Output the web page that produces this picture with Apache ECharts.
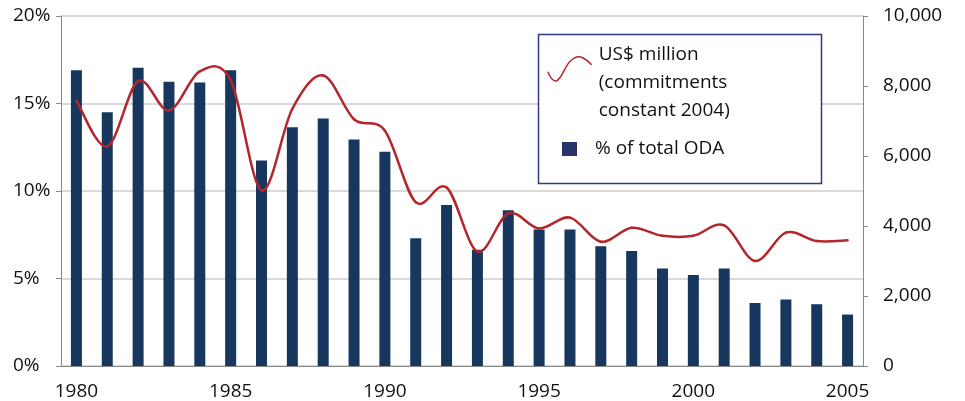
<!DOCTYPE html>
<html>
<head>
<meta charset="utf-8">
<script src="https://cdn.jsdelivr.net/npm/echarts@6/dist/echarts.min.js"></script>
<style>
html,body{margin:0;padding:0;background:#fff;}
#chart{width:965px;height:401px;}
</style>
</head>
<body>
<div id="chart"></div>
<script>
const years = ['1980','1981','1982','1983','1984','1985','1986','1987','1988','1989','1990','1991','1992','1993','1994','1995','1996','1997','1998','1999','2000','2001','2002','2003','2004','2005'];
const pctOfTotalODA = [16.9, 14.5, 17.05, 16.25, 16.2, 16.9, 11.75, 13.65, 14.15, 12.95, 12.25, 7.3, 9.2, 6.65, 8.9, 7.8, 7.8, 6.85, 6.57, 5.57, 5.2, 5.57, 3.6, 3.8, 3.53, 2.94];
const usdMillion = [7580, 6270, 8140, 7300, 8420, 8170, 5020, 7350, 8300, 7050, 6720, 4680, 5100, 3270, 4360, 3930, 4240, 3550, 3950, 3720, 3720, 4020, 3000, 3810, 3570, 3590];
const lineName = 'US$ million\n(commitments\nconstant 2004)';
const barName = '% of total ODA';

const FONT = 'Open Sans';
const LINE_COLOR = '#b3262b';
const chart = echarts.init(document.getElementById('chart'), null, {renderer:'canvas'});

function renderSmooth(params, api) {
  const n = usdMillion.length;
  const i = params.dataIndex;
  if (i >= n - 1) return null;
  const P = k => {
    const kk = Math.max(0, Math.min(n - 1, k));
    return api.coord([kk, usdMillion[kk]]);
  };
  const p0 = P(i - 1), p1 = P(i), p2 = P(i + 1), p3 = P(i + 2);
  const c1 = [p1[0] + (p2[0] - p0[0]) / 6, p1[1] + (p2[1] - p0[1]) / 6];
  const c2 = [p2[0] - (p3[0] - p1[0]) / 6, p2[1] - (p3[1] - p1[1]) / 6];
  return {
    type: 'bezierCurve',
    shape: {x1: p1[0], y1: p1[1], x2: p2[0], y2: p2[1], cpx1: c1[0], cpy1: c1[1], cpx2: c2[0], cpy2: c2[1]},
    style: {stroke: LINE_COLOR, lineWidth: 2.5, fill: null, lineCap: 'round'}
  };
}

chart.setOption({
  animation: false,
  backgroundColor: '#fff',
  textStyle: {fontFamily: FONT},
  grid: {left: 61, right: 102, top: 16, bottom: 34, containLabel: false},
  graphic: [{
    type: 'rect', z: 5,
    shape: {x: 538.5, y: 34.5, width: 283, height: 149},
    style: {fill: '#fff', stroke: '#2f3b82', lineWidth: 1.5}
  }],
  legend: [{
    z: 10, selectedMode: false, orient: 'vertical', left: 547, top: 40, padding: 0,
    itemWidth: 46, itemHeight: 84,
    data: [{name: lineName,
      icon: 'path://M0,0M46,84M0,31C3,37 5,41 9,40C14,38 17,25 23,20C27,16 31,15 35,17C39,19 42,22 44,24',
      itemStyle: {color: 'transparent', borderColor: LINE_COLOR, borderWidth: 1.5}}],
    textStyle: {fontFamily: FONT, fontSize: 19, lineHeight: 28, color: '#111'}
  }, {
    z: 10, selectedMode: false, orient: 'vertical', left: 562, top: 137, padding: 0,
    itemWidth: 28, itemHeight: 14,
    data: [{name: barName, icon: 'path://M0,0h15v14h-15zM28,14', itemStyle: {color: '#27336b'}}],
    textStyle: {fontFamily: FONT, fontSize: 19, lineHeight: 24, color: '#111'}
  }],
  xAxis: {
    type: 'category', data: years, boundaryGap: true,
    axisLine: {lineStyle: {color: '#888', width: 1}},
    axisTick: {interval: 0, length: 5, lineStyle: {color: '#888'}},
    axisLabel: {interval: 4, fontSize: 19, color: '#111', margin: 16, fontFamily: FONT}
  },
  yAxis: [{
    type: 'value', min: 0, max: 20, interval: 5,
    axisLine: {show: true, lineStyle: {color: '#888'}},
    axisTick: {show: true, length: 5, lineStyle: {color: '#888'}},
    splitLine: {lineStyle: {color: '#cccccc', width: 1.5}},
    axisLabel: {formatter: '{value}%', align: 'left', margin: 48, fontSize: 19, color: '#111', fontFamily: FONT}
  }, {
    type: 'value', min: 0, max: 10000, interval: 2000,
    axisLine: {show: true, lineStyle: {color: '#888'}},
    axisTick: {show: true, length: 5, lineStyle: {color: '#888'}},
    splitLine: {show: false},
    axisLabel: {formatter: v => v.toLocaleString('en-US'), align: 'left', margin: 20, fontSize: 19, color: '#111', fontFamily: FONT}
  }],
  series: [{
    name: barName, type: 'bar', yAxisIndex: 0, data: pctOfTotalODA,
    barWidth: 11, itemStyle: {color: '#17375e'}, z: 2
  }, {
    name: lineName, type: 'custom', yAxisIndex: 1, xAxisIndex: 0,
    data: usdMillion.map((v, i) => [i, v]),
    encode: {x: 0, y: 1},
    renderItem: renderSmooth,
    itemStyle: {color: LINE_COLOR}, z: 3, silent: true
  }]
});
</script>
</body>
</html>
